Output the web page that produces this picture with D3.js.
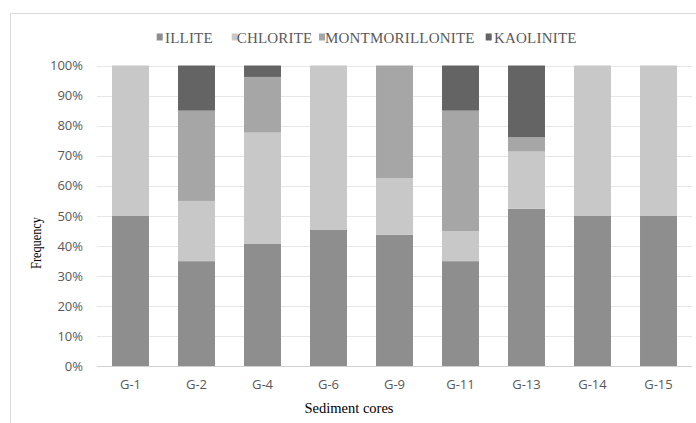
<!DOCTYPE html>
<html><head><meta charset="utf-8">
<script src="https://cdn.jsdelivr.net/npm/d3@7"></script>
<style>body{margin:0;background:#fff}svg{display:block}</style>
</head><body>
<svg id="c" width="696" height="423"></svg>
<script>
const categories = ["G-1","G-2","G-4","G-6","G-9","G-11","G-13","G-14","G-15"];
const seriesNames = ["ILLITE","CHLORITE","MONTMORILLONITE","KAOLINITE"];
const illite          = [50, 35, 40.7, 45.5, 43.75, 35, 52.4, 50, 50];
const chlorite        = [50, 20, 37.0, 54.5, 18.75, 10, 19.0, 50, 50];
const montmorillonite = [0, 30, 18.5, 0, 37.5, 40, 4.8, 0, 0];
const kaolinite       = [0, 15, 3.8, 0, 0, 15, 23.8, 0, 0];
const yTicks = [0,0.1,0.2,0.3,0.4,0.5,0.6,0.7,0.8,0.9,1];
const colors = ["#8e8e8e","#c8c8c8","#a6a6a6","#646464"];

const svg = d3.select("#c");
// chart border
svg.append("path").attr("d","M10.5,423 V13.5 H696").attr("fill","none").attr("stroke","#d9d9d9");

const x = d3.scaleBand().domain(categories).range([97.5, 691.5]).paddingInner(0.44).paddingOuter(0.22);
const y = d3.scaleLinear().domain([0,1]).range([366.5, 65.5]);

// gridlines
svg.append("g").selectAll("line").data(yTicks.slice(1)).join("line")
  .attr("x1",97).attr("x2",692).attr("y1",d=>Math.round(y(d))+0.5).attr("y2",d=>Math.round(y(d))+0.5)
  .attr("stroke","#e6e6e6");

const rows = categories.map((c,i)=>({cat:c, ILLITE:illite[i], CHLORITE:chlorite[i], MONTMORILLONITE:montmorillonite[i], KAOLINITE:kaolinite[i]}));
rows.forEach(r=>{const t=seriesNames.reduce((s,k)=>s+r[k],0); seriesNames.forEach(k=>r[k]=r[k]/t);});
const stack = d3.stack().keys(seriesNames)(rows);

svg.append("g").selectAll("g").data(stack).join("g").attr("fill",(d,i)=>colors[i])
  .selectAll("rect").data(d=>d).join("rect")
  .attr("x",d=>x(d.data.cat)).attr("width",x.bandwidth())
  .attr("y",d=>y(d[1])).attr("height",d=>y(d[0])-y(d[1]));

// x axis line
svg.append("line").attr("x1",97).attr("x2",692).attr("y1",366.5).attr("y2",366.5).attr("stroke","#d0d0d0");

// y tick labels
svg.append("g").selectAll("text").data(yTicks).join("text")
  .attr("x",83).attr("y",d=>y(d)).attr("dy","0.35em").attr("text-anchor","end")
  .attr("font-family","'Open Sans', sans-serif").attr("font-size",13).attr("fill","#595959")
  .text(d=>d3.format(".0%")(d));

// x labels
svg.append("g").selectAll("text").data(categories).join("text")
  .attr("x",d=>x(d)+x.bandwidth()/2).attr("y",384).attr("dy","0.35em").attr("text-anchor","middle")
  .attr("font-family","'Open Sans', sans-serif").attr("font-size",13).attr("fill","#595959")
  .text(d=>d);

// axis titles
svg.append("text").attr("x",349).attr("y",408).attr("dy","0.35em").attr("text-anchor","middle")
  .attr("font-family","'Liberation Serif', serif").attr("font-size",14.5).attr("fill","#000").text("Sediment cores");
svg.append("text").attr("transform","translate(36,243) rotate(-90) scale(0.82,1)").attr("dy","0.35em").attr("text-anchor","middle")
  .attr("font-family","'Liberation Serif', serif").attr("font-size",15).attr("fill","#000").text("Frequency");

// legend
const legSq = [156.7, 231.7, 319, 485.7];
const legTx = [165, 236.7, 325, 494];
const leg = svg.append("g").selectAll("g").data(seriesNames).join("g");
leg.append("rect").attr("x",(d,i)=>legSq[i]).attr("y",33.5).attr("width",6).attr("height",7).attr("fill",(d,i)=>colors[i]);
leg.append("text").attr("x",(d,i)=>legTx[i]).attr("y",42.5).attr("letter-spacing",0.2)
  .attr("font-family","'Liberation Serif', serif").attr("font-size",15).attr("fill","#595959").text(d=>d);
</script>
</body></html>
